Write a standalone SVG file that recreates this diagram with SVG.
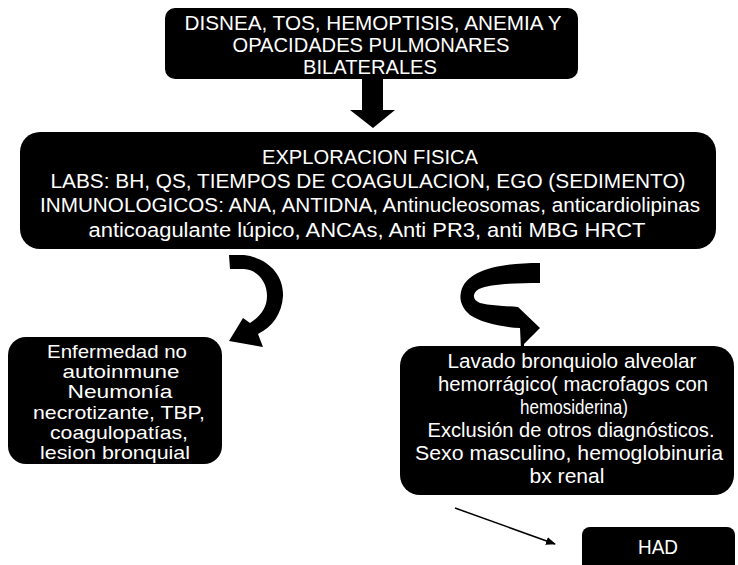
<svg xmlns="http://www.w3.org/2000/svg" width="738" height="565" viewBox="0 0 738 565">
<style>
.box{fill:#000}
.t{fill:#fff;font-family:"Liberation Sans",Arial,sans-serif;text-anchor:middle;font-size:20.5px}
.th{font-size:20px}
.tb{font-size:19.5px}
.tl{font-size:19px}
</style>
<defs>
<marker id="ah" markerWidth="10" markerHeight="8" refX="9" refY="4" orient="auto" markerUnits="userSpaceOnUse">
<path d="M0,0 L10,4 L0,8 Z" fill="#000"/>
</marker>
</defs>
<rect width="738" height="565" fill="#fff"/>
<g id="n1">
<rect class="box" x="165" y="8" width="413" height="71" rx="10"/>
<text class="t th" x="373" y="30" textLength="377" lengthAdjust="spacingAndGlyphs">DISNEA, TOS, HEMOPTISIS, ANEMIA Y</text>
<text class="t th" x="371" y="52" textLength="277" lengthAdjust="spacingAndGlyphs">OPACIDADES PULMONARES</text>
<text class="t th" x="370" y="74" textLength="134" lengthAdjust="spacingAndGlyphs">BILATERALES</text>
</g>
<g id="n2">
<rect class="box" x="20" y="132" width="696" height="117" rx="20"/>
<text class="t tb" x="370" y="164" textLength="216" lengthAdjust="spacingAndGlyphs">EXPLORACION FISICA</text>
<text class="t tb" x="368" y="188" textLength="635" lengthAdjust="spacingAndGlyphs">LABS: BH, QS, TIEMPOS DE COAGULACION, EGO (SEDIMENTO)</text>
<text class="t tb" x="370" y="212" textLength="660" lengthAdjust="spacingAndGlyphs">INMUNOLOGICOS: ANA, ANTIDNA, Antinucleosomas, anticardiolipinas</text>
<text class="t tb" x="367" y="237" textLength="557" lengthAdjust="spacingAndGlyphs">anticoagulante lúpico, ANCAs, Anti PR3, anti MBG HRCT</text>
</g>
<g id="n3">
<rect class="box" x="8" y="337" width="214" height="127" rx="18"/>
<text class="t tl" x="117" y="358" textLength="140" lengthAdjust="spacingAndGlyphs">Enfermedad no</text>
<text class="t tl" x="121" y="378" textLength="117" lengthAdjust="spacingAndGlyphs">autoinmune</text>
<text class="t tl" x="120" y="398" textLength="105" lengthAdjust="spacingAndGlyphs">Neumonía</text>
<text class="t tl" x="119" y="419" textLength="172" lengthAdjust="spacingAndGlyphs">necrotizante, TBP,</text>
<text class="t tl" x="119" y="439" textLength="138" lengthAdjust="spacingAndGlyphs">coagulopatías,</text>
<text class="t tl" x="115" y="459" textLength="150" lengthAdjust="spacingAndGlyphs">lesion bronquial</text>
</g>
<g id="n4">
<rect class="box" x="400" y="346" width="334" height="149" rx="20"/>
<text class="t" x="572" y="368" textLength="249" lengthAdjust="spacingAndGlyphs">Lavado bronquiolo alveolar</text>
<text class="t" x="573" y="391" textLength="270" lengthAdjust="spacingAndGlyphs">hemorrágico( macrofagos con</text>
<text class="t" x="574" y="414" textLength="108" lengthAdjust="spacingAndGlyphs">hemosiderina)</text>
<text class="t" x="571" y="437" textLength="287" lengthAdjust="spacingAndGlyphs">Exclusión de otros diagnósticos.</text>
<text class="t" x="569" y="460" textLength="308" lengthAdjust="spacingAndGlyphs">Sexo masculino, hemoglobinuria</text>
<text class="t" x="567" y="483" textLength="75" lengthAdjust="spacingAndGlyphs">bx renal</text>
</g>
<g id="n5">
<rect class="box" x="582" y="527" width="153" height="45" rx="8"/>
<text class="t th" x="658" y="554" textLength="40" lengthAdjust="spacingAndGlyphs">HAD</text>
</g>
<g id="connectors">
<polygon fill="#000" points="362,79 383,79 383,110 395,110 373,128 350,110 362,110"/>
<path fill="#000" d="M229,255 L244,255 C268,258 284,275 283,296 C282,314 272,327 258,334 L263,347 L229,341 L243,318 L250,323 C261,316 267,307 267,296 C267,282 258,270 244,269 L230,269 Z"/>
<path fill="#000" d="M540,263 L540,283 C515,283 490,284 479,289 C472,293 472,300 480,303 C492,306 508,306 518,307 L540,328 L524,344 L524,350 L521,350 L520,328 C500,327 480,322 470,315 C462,308 459,300 461,292 C466,270 500,263 540,263 Z"/>
<line x1="455" y1="508" x2="555" y2="544" stroke="#000" stroke-width="1.5" marker-end="url(#ah)"/>
</g>
</svg>
